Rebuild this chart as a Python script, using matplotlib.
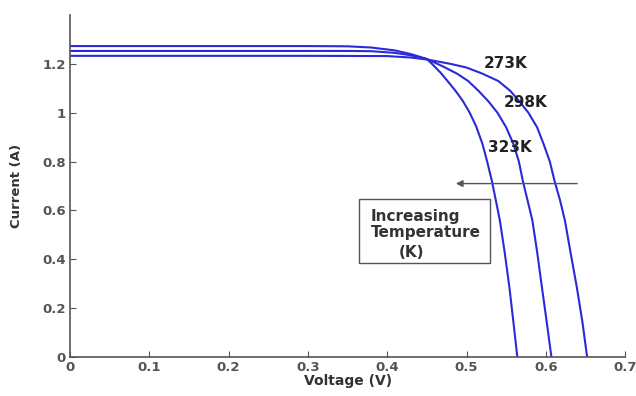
import matplotlib
matplotlib.use('Agg')
import matplotlib.pyplot as plt
from matplotlib.patches import Rectangle

# I-V curves (voltage in V, current in A)
v_323 = [0, 0.10, 0.20, 0.30, 0.35, 0.38, 0.41, 0.43, 0.45, 0.458, 0.467, 0.476, 0.486, 0.495, 0.504,
         0.512, 0.520, 0.526, 0.532, 0.537, 0.542, 0.548, 0.554, 0.559, 0.564]
i_323 = [1.273, 1.273, 1.273, 1.273, 1.272, 1.267, 1.255, 1.24, 1.22, 1.195, 1.165, 1.13, 1.09, 1.05, 1.0,
         0.945, 0.873, 0.80, 0.72, 0.64, 0.559, 0.43, 0.286, 0.145, 0.0]

v_298 = [0, 0.10, 0.20, 0.30, 0.35, 0.38, 0.41, 0.43, 0.45, 0.47, 0.488, 0.502, 0.515, 0.528, 0.539,
         0.550, 0.559, 0.566, 0.571, 0.577, 0.583, 0.589, 0.595, 0.601, 0.607]
i_298 = [1.253, 1.253, 1.253, 1.253, 1.253, 1.252, 1.245, 1.235, 1.22, 1.19, 1.16, 1.13, 1.09, 1.045, 1.0,
         0.94, 0.873, 0.80, 0.72, 0.64, 0.559, 0.43, 0.286, 0.145, 0.0]

v_273 = [0, 0.10, 0.20, 0.30, 0.40, 0.43, 0.45, 0.48, 0.50, 0.52, 0.54, 0.555, 0.567, 0.578,
         0.589, 0.597, 0.605, 0.611, 0.618, 0.624, 0.631, 0.639, 0.646, 0.652]
i_273 = [1.233, 1.233, 1.233, 1.233, 1.232, 1.226, 1.218, 1.20, 1.185, 1.16, 1.13, 1.09, 1.045, 1.0,
         0.94, 0.873, 0.80, 0.72, 0.64, 0.559, 0.43, 0.286, 0.145, 0.0]

x_ticks = [0, 0.1, 0.2, 0.3, 0.4, 0.5, 0.6, 0.7]
x_labels = ['0', '0.1', '0.2', '0.3', '0.4', '0.5', '0.6', '0.7']
y_ticks = [0, 0.2, 0.4, 0.6, 0.8, 1.0, 1.2]
y_labels = ['0', '0.2', '0.4', '0.6', '0.8', '1', '1.2']

plt.rcParams['font.family'] = ['DejaVu Sans']

fig = plt.figure(figsize=(6.36, 3.96), dpi=100)
ax = fig.add_axes([0.110, 0.0985, 0.873, 0.8635])

blue = '#2a2ad6'
for v, i in [(v_323, i_323), (v_298, i_298), (v_273, i_273)]:
    ax.plot(v, i, color=blue, lw=1.5)

ax.set_xlim(0, 0.7)
ax.set_ylim(0, 1.4)
ax.set_xticks(x_ticks)
ax.set_xticklabels(x_labels)
ax.set_yticks(y_ticks)
ax.set_yticklabels(y_labels)
ax.tick_params(direction='in', length=4, color='#555555', labelcolor='#555555', labelsize=9.5, pad=3)
for lab in ax.get_xticklabels() + ax.get_yticklabels():
    lab.set_fontweight('bold')
ax.spines['top'].set_visible(False)
ax.spines['right'].set_visible(False)
for s in ['left', 'bottom']:
    ax.spines[s].set_color('#555555')
    ax.spines[s].set_linewidth(1.2)

ax.set_xlabel('Voltage (V)', fontsize=10, fontweight='bold', color='#333333', labelpad=0)
ax.set_ylabel('Current (A)', fontsize=9.5, fontweight='bold', color='#333333', labelpad=14)

# curve labels
ax.text(0.549, 1.200, '273K', fontsize=11, fontweight='bold', color='#222222', ha='center', va='center')
ax.text(0.574, 1.040, '298K', fontsize=11, fontweight='bold', color='#222222', ha='center', va='center')
ax.text(0.555, 0.857, '323K', fontsize=11, fontweight='bold', color='#222222', ha='center', va='center')

# arrow
ax.annotate('', xy=(0.483, 0.71), xytext=(0.643, 0.71),
            arrowprops=dict(arrowstyle='-|>', color='#555555', lw=1.0, mutation_scale=10))

# annotation box
ax.add_patch(Rectangle((0.365, 0.384), 0.164, 0.261, fill=False, edgecolor='#555555', lw=1.0))
ax.text(0.379, 0.576, 'Increasing', fontsize=11, fontweight='bold', color='#333333', va='center')
ax.text(0.379, 0.510, 'Temperature', fontsize=11, fontweight='bold', color='#333333', va='center')
ax.text(0.431, 0.429, '(K)', fontsize=11, fontweight='bold', color='#333333', ha='center', va='center')

fig.savefig('out.png', dpi=100)
